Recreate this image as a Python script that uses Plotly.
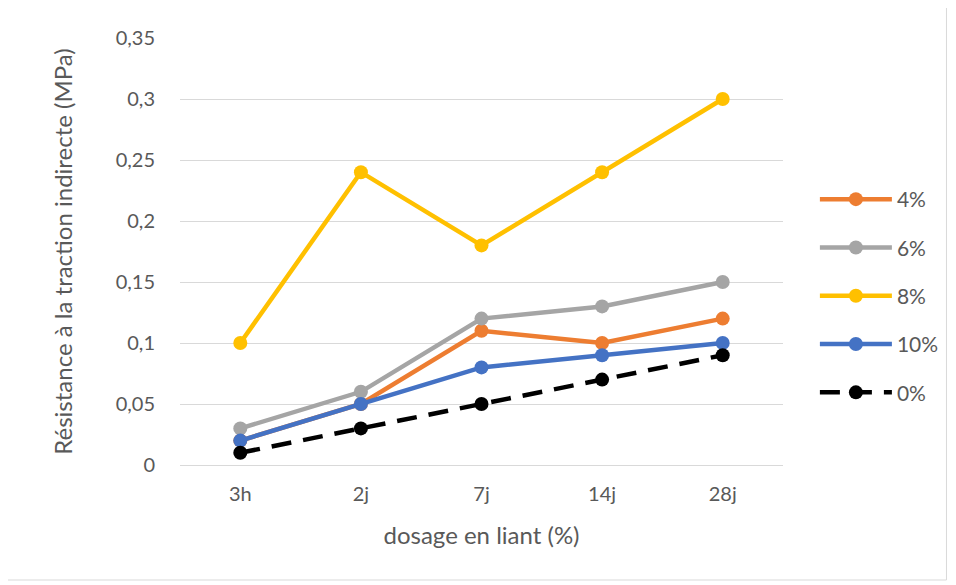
import plotly.graph_objects as go

categories = ["3h", "2j", "7j", "14j", "28j"]
s4 = [0.02, 0.05, 0.11, 0.10, 0.12]
s6 = [0.03, 0.06, 0.12, 0.13, 0.15]
s8 = [0.10, 0.24, 0.18, 0.24, 0.30]
s10 = [0.02, 0.05, 0.08, 0.09, 0.10]
s0 = [0.01, 0.03, 0.05, 0.07, 0.09]
names = ["4%", "6%", "8%", "10%", "0%"]
ytick_vals = [0, 0.05, 0.1, 0.15, 0.2, 0.25, 0.3, 0.35]
ytick_text = ["0", "0,05", "0,1", "0,15", "0,2", "0,25", "0,3", "0,35"]

colors = ["#ED7D31", "#A5A5A5", "#FFC000", "#4472C4", "#000000"]
series = [s4, s6, s8, s10, s0]

fig = go.Figure()
for name, vals, col in zip(names, series, colors):
    dash = "20px,12px" if name == "0%" else "solid"
    fig.add_trace(go.Scatter(
        x=categories, y=vals, name=name, mode="lines+markers",
        line=dict(color=col, width=4.5, dash=dash),
        marker=dict(color=col, size=14),
        legendgroup=name,
    ))

OFF = 8  # page body margin
W, H = 956 - OFF, 585 - OFF
L, T = 180 - OFF, 38 - OFF
PR, PB = 785 - OFF, 465 - OFF
R, B = W - PR, H - PB
pw, ph = PR - L, PB - T

def px_x(p):
    return (p - OFF - L) / pw

def px_y(p):
    return (PB - (p - OFF)) / ph

FONT = "Lato, Carlito, Calibri, sans-serif"
fig.update_layout(
    width=W, height=H,
    margin=dict(l=L, r=R, t=T, b=B),
    paper_bgcolor="white", plot_bgcolor="white",
    font=dict(family=FONT, size=20, color="#595959"),
    showlegend=True,
    legend=dict(x=px_x(817), y=px_y(296), xanchor="left", yanchor="middle",
                tracegroupgap=18, font=dict(family=FONT, size=21, color="#595959"),
                itemwidth=72),
    xaxis=dict(
        type="category", range=[-0.5, 4.5], showgrid=False, showline=False, zeroline=False,
        ticks="", ticklabelstandoff=15, tickfont=dict(family=FONT, size=20, color="#595959"),
        title=dict(text="dosage en liant (%)", font=dict(family=FONT, size=24, color="#595959"), standoff=23),
    ),
    yaxis=dict(
        range=[0, 0.35], tickvals=ytick_vals, ticktext=ytick_text,
        showgrid=True, gridcolor="#D9D9D9", gridwidth=1.3,
        zeroline=True, zerolinecolor="#D9D9D9", zerolinewidth=1.3,
        showline=False, ticks="", ticklabelstandoff=24,
        tickfont=dict(family=FONT, size=20, color="#595959"),
        title=dict(text="Résistance à la traction indirecte (MPa)", font=dict(family=FONT, size=24, color="#595959"), standoff=36),
    ),
    shapes=[dict(type="rect", xref="paper", yref="paper",
                 x0=px_x(1), x1=px_x(949), y0=px_y(580), y1=px_y(1),
                 line=dict(color="#D9D9D9", width=1), fillcolor="rgba(0,0,0,0)", layer="below")],
)

fig.write_html("out.html")
